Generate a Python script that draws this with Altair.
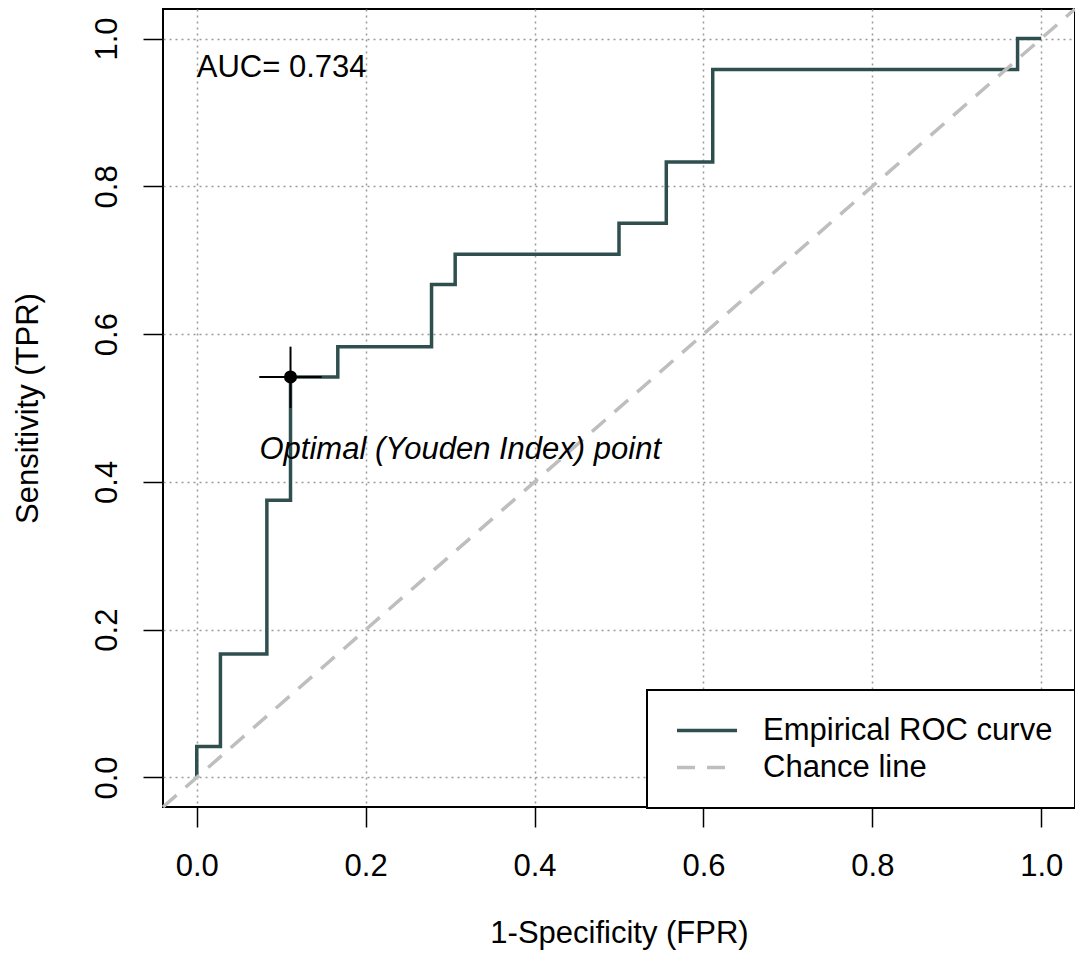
import altair as alt
import pandas as pd

# ---- data ----
fpr = [0.0, 0.0, 0.028, 0.083, 0.111, 0.167, 0.278, 0.306, 0.5, 0.556, 0.611, 0.972, 1.0]
tpr = [0.0, 0.042, 0.167, 0.375, 0.542, 0.583, 0.667, 0.708, 0.75, 0.833, 0.958, 1.0, 1.0]
chance_xy = [-0.04, 1.04]
series_names = ["Empirical ROC curve", "Chance line"]
opt_fpr = [0.111]
opt_tpr = [0.542]
ci_fpr = [0.074, 0.148]
ci_tpr = [0.5, 0.583]
auc_label = ["AUC= 0.734"]
auc_pos = [0.0, 0.96]
opt_label = ["Optimal (Youden Index) point"]
opt_label_pos = [0.312, 0.443]
tick_values = [0.0, 0.2, 0.4, 0.6, 0.8, 1.0]

FONT = "Liberation Sans"
FS = 31
W, H = 912, 798

roc_df = pd.DataFrame({"x": fpr, "y": tpr, "series": series_names[0], "i": list(range(len(fpr)))})
chance_df = pd.DataFrame({"x": chance_xy, "y": chance_xy, "series": series_names[1], "i": [0, 1]})
opt_df = pd.DataFrame({"x": opt_fpr, "y": opt_tpr})
hci_df = pd.DataFrame({"x": [ci_fpr[0]], "x2": [ci_fpr[1]], "y": opt_tpr})
vci_df = pd.DataFrame({"x": opt_fpr, "y": [ci_tpr[0]], "y2": [ci_tpr[1]]})
auc_df = pd.DataFrame({"x": [auc_pos[0]], "y": [auc_pos[1]], "t": auc_label})
lab_df = pd.DataFrame({"x": [opt_label_pos[0]], "y": [opt_label_pos[1]], "t": opt_label})

xs = alt.Scale(domain=[-0.04, 1.04], nice=False, zero=False)
ys = alt.Scale(domain=[-0.04, 1.04], nice=False, zero=False)

x_axis = alt.Axis(
    values=tick_values, format=".1f", grid=True, domain=False,
    tickSize=20, tickWidth=1.5, tickColor="black",
    labelFontSize=FS, labelFont=FONT, labelColor="black",
    labelBaseline="alphabetic", labelPadding=48,
    titleFontSize=FS, titleFont=FONT, titleFontWeight="normal", titleColor="black",
    titleX=W / 2, titleY=135, titleBaseline="alphabetic", titleAlign="center",
)
y_axis = alt.Axis(
    values=tick_values, format=".1f", grid=True, domain=False,
    tickSize=20, tickWidth=1.5, tickColor="black",
    labelFontSize=FS, labelFont=FONT, labelColor="black",
    labelAngle=270, labelAlign="center", labelBaseline="alphabetic", labelPadding=27,
    titleFontSize=FS, titleFont=FONT, titleFontWeight="normal", titleColor="black",
    titleAngle=270, titleX=-126, titleY=H / 2, titleBaseline="alphabetic", titleAlign="center",
)


def X(f="x"):
    return alt.X(f"{f}:Q", scale=xs, axis=x_axis, title="1-Specificity (FPR)")


def Y(f="y"):
    return alt.Y(f"{f}:Q", scale=ys, axis=y_axis, title="Sensitivity (TPR)")


color = alt.Color(
    "series:N",
    scale=alt.Scale(domain=series_names, range=["#2F4F4F", "#BEBEBE"]),
    title=None,
    legend=alt.Legend(
        orient="none", legendX=484, legendY=681,
        symbolType="stroke", symbolSize=3600, symbolStrokeWidth=3.5,
        symbolOffset=6,
        labelFontSize=FS, labelFont=FONT, labelColor="black", labelOffset=24,
        labelLimit=500,
        padding=22, rowPadding=0, clipHeight=37,
        strokeColor="black", fillColor="white",
    ),
)
dash = alt.StrokeDash(
    "series:N",
    scale=alt.Scale(domain=series_names, range=[[1, 0], [18, 12]]),
    title=None,
)

roc = alt.Chart(roc_df).mark_line(strokeWidth=3.5, interpolate="step-after").encode(
    x=X(), y=Y(), color=color, strokeDash=dash, order="i:Q"
)
chance = alt.Chart(chance_df).mark_line(strokeWidth=3.5).encode(
    x=X(), y=Y(), color=color, strokeDash=dash, order="i:Q"
)
hci = alt.Chart(hci_df).mark_rule(color="black", strokeWidth=2).encode(x=X(), x2="x2:Q", y=Y())
vci = alt.Chart(vci_df).mark_rule(color="black", strokeWidth=2).encode(x=X(), y=Y(), y2="y2:Q")
pt = alt.Chart(opt_df).mark_point(filled=True, color="black", size=170, opacity=1).encode(x=X(), y=Y())
auc = alt.Chart(auc_df).mark_text(align="left", baseline="middle", fontSize=FS, font=FONT, color="black").encode(
    x=X(), y=Y(), text="t:N"
)
lab = alt.Chart(lab_df).mark_text(align="center", baseline="middle", fontSize=FS, font=FONT,
                                  fontStyle="italic", color="black").encode(x=X(), y=Y(), text="t:N")

chart = alt.layer(roc, chance, hci, vci, pt, auc, lab).properties(
    width=W, height=H,
    autosize=alt.AutoSizeParams(type="none"),
    padding={"left": 155, "top": 1, "right": 0, "bottom": 143},
).configure_view(stroke="black", strokeWidth=2).configure_axis(
    gridDash=[2, 4], gridColor="#999999", gridWidth=1.5
).configure_legend(strokeWidth=2)

chart.save("out.html", embed_options={"renderer": "svg", "actions": False})
